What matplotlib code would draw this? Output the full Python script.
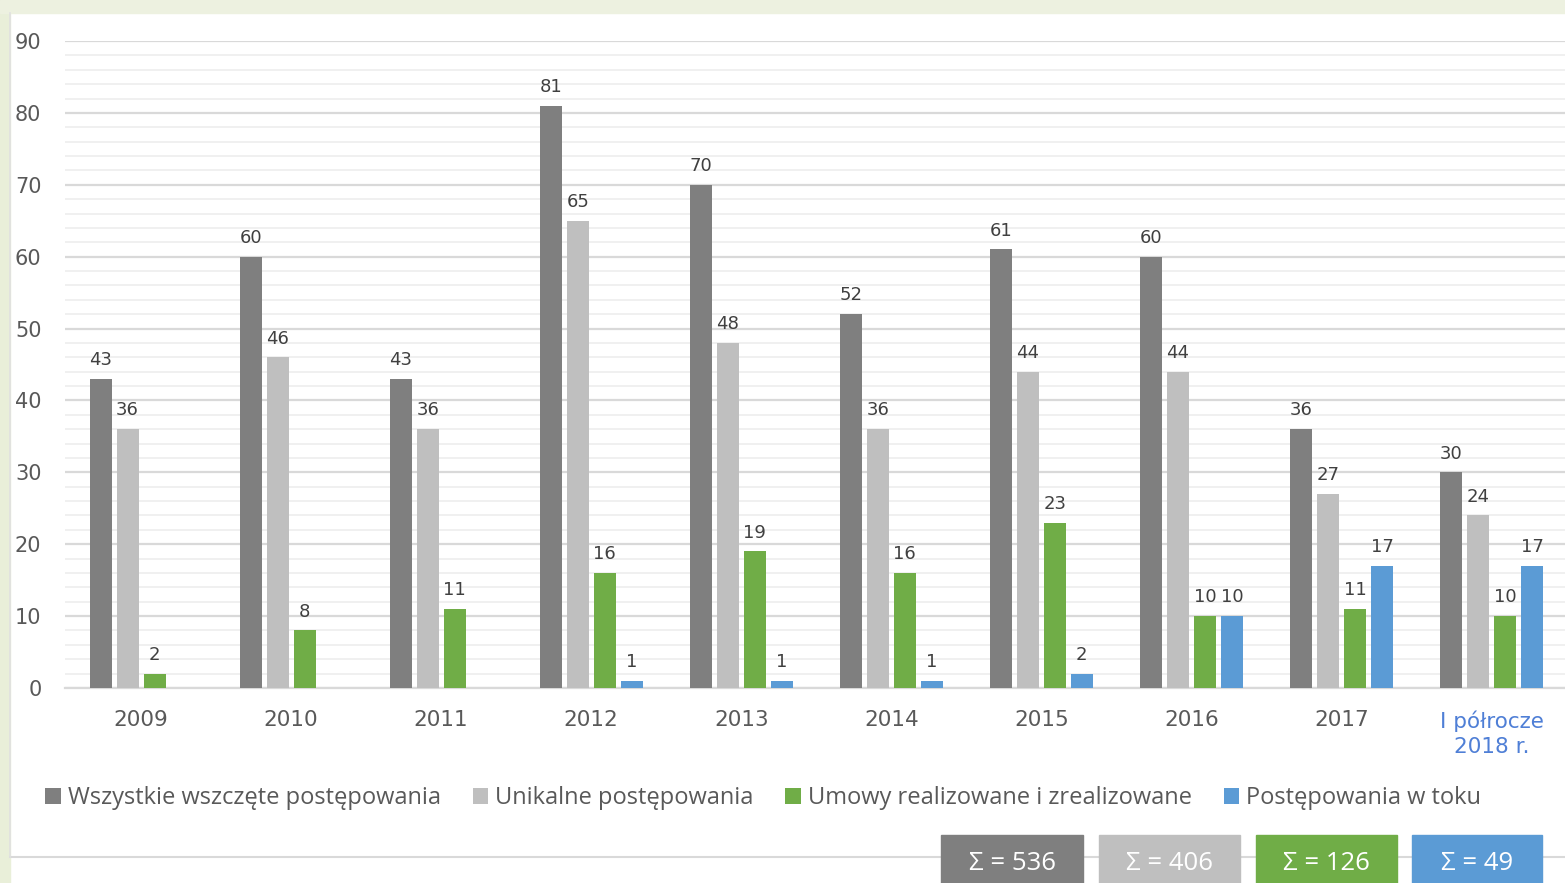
import numpy as np
import matplotlib.pyplot as plt
from matplotlib.patches import Rectangle

categories = ["2009", "2010", "2011", "2012", "2013", "2014", "2015", "2016", "2017",
              "I półrocze\n2018 r."]
series_names = ["Wszystkie wszczęte postępowania", "Unikalne postępowania",
                "Umowy realizowane i zrealizowane", "Postępowania w toku"]
wszystkie = [43, 60, 43, 81, 70, 52, 61, 60, 36, 30]
unikalne = [36, 46, 36, 65, 48, 36, 44, 44, 27, 24]
umowy = [2, 8, 11, 16, 19, 16, 23, 10, 11, 10]
w_toku = [np.nan, np.nan, np.nan, 1, 1, 1, 2, 10, 17, 17]

colors = ["#7f7f7f", "#bfbfbf", "#70ad47", "#5b9bd5"]
W, H = 1565, 883

plt.rcParams['font.family'] = ['Open Sans', 'DejaVu Sans']
num_font = ['DejaVu Sans']

fig = plt.figure(figsize=(W / 100, H / 100), dpi=100)
fig.patch.set_facecolor("white")

# background decoration: green strips + white panel outline
fig.patches.append(Rectangle((0, 0), 10 / W, 1, transform=fig.transFigure,
                             color="#e9efd9", zorder=0))
fig.patches.append(Rectangle((0, 1 - 13 / H), 1, 13 / H, transform=fig.transFigure,
                             color="#edf1e0", zorder=0))
fig.add_artist(plt.Line2D([10 / W, 1], [1 - 857 / H] * 2, transform=fig.transFigure,
                          color="#d9d9d9", lw=1.5, zorder=1))
fig.add_artist(plt.Line2D([10 / W, 10 / W], [1 - 857 / H, 1 - 13 / H],
                          transform=fig.transFigure, color="#e0e0e0", lw=1.2, zorder=1))

ax = fig.add_axes([65 / W, 1 - 688 / H, 1 - 65 / W, (688 - 41) / H])
ax.set_facecolor("none")

x = np.arange(len(categories))
width = 0.147
step = 0.18
all_series = [wszystkie, unikalne, umowy, w_toku]
for i, (vals, col, name) in enumerate(zip(all_series, colors, series_names)):
    pos = x + (i - 1.5) * step
    ax.bar(pos, vals, width, color=col, label=name, zorder=3)
    for p, v in zip(pos, vals):
        if np.isnan(v):
            continue
        ax.annotate(f"{int(v)}", (p, v), xytext=(0, 7), textcoords="offset points",
                    ha="center", va="bottom", fontsize=13, color="#404040",
                    family=num_font)

ax.set_xlim(-0.507, 9.49)
ax.set_ylim(0, 90)
ax.set_yticks(np.arange(0, 91, 10))
ax.set_yticks(np.arange(0, 91, 2), minor=True)
ax.grid(axis="y", which="major", color="#d9d9d9", lw=1.6, zorder=0)
ax.grid(axis="y", which="minor", color="#f0f0f0", lw=1.4, zorder=0)
ax.tick_params(axis="y", which="both", length=0, pad=17, labelsize=15, labelcolor="#595959")
ax.tick_params(axis="x", length=0, pad=16, labelsize=15.5, labelcolor="#595959")
ax.set_xticks(x)
ax.set_xticklabels(categories, linespacing=1.3)
for lab in ax.get_yticklabels() + ax.get_xticklabels():
    lab.set_family(num_font)
ax.get_xticklabels()[-1].set_color("#4f7fd6")
for s in ["top", "right", "left"]:
    ax.spines[s].set_visible(False)
ax.spines["bottom"].set_color("#d9d9d9")
ax.spines["bottom"].set_linewidth(1.6)

fig.legend(loc="center left", bbox_to_anchor=(24 / W, 1 - 798 / H), ncol=4,
           frameon=False, fontsize=17, handlelength=0.65, handleheight=0.65,
           handletextpad=0.3, columnspacing=1.35, labelcolor="#595959")

# sum boxes
boxes = [(941, 142), (1099, 141), (1256, 141), (1412, 130)]
for (bx, bw), vals, col in zip(boxes, all_series, colors):
    total = int(np.nansum(vals))
    fig.patches.append(Rectangle((bx / W, 0), bw / W, (883 - 835) / H,
                                 transform=fig.transFigure, color=col, zorder=2))
    fig.text((bx + bw / 2) / W, 1 - 863 / H, f"Σ = {total}", ha="center", va="center",
             color="white", fontsize=18.5, zorder=3)

fig.savefig("out.png", dpi=100)
